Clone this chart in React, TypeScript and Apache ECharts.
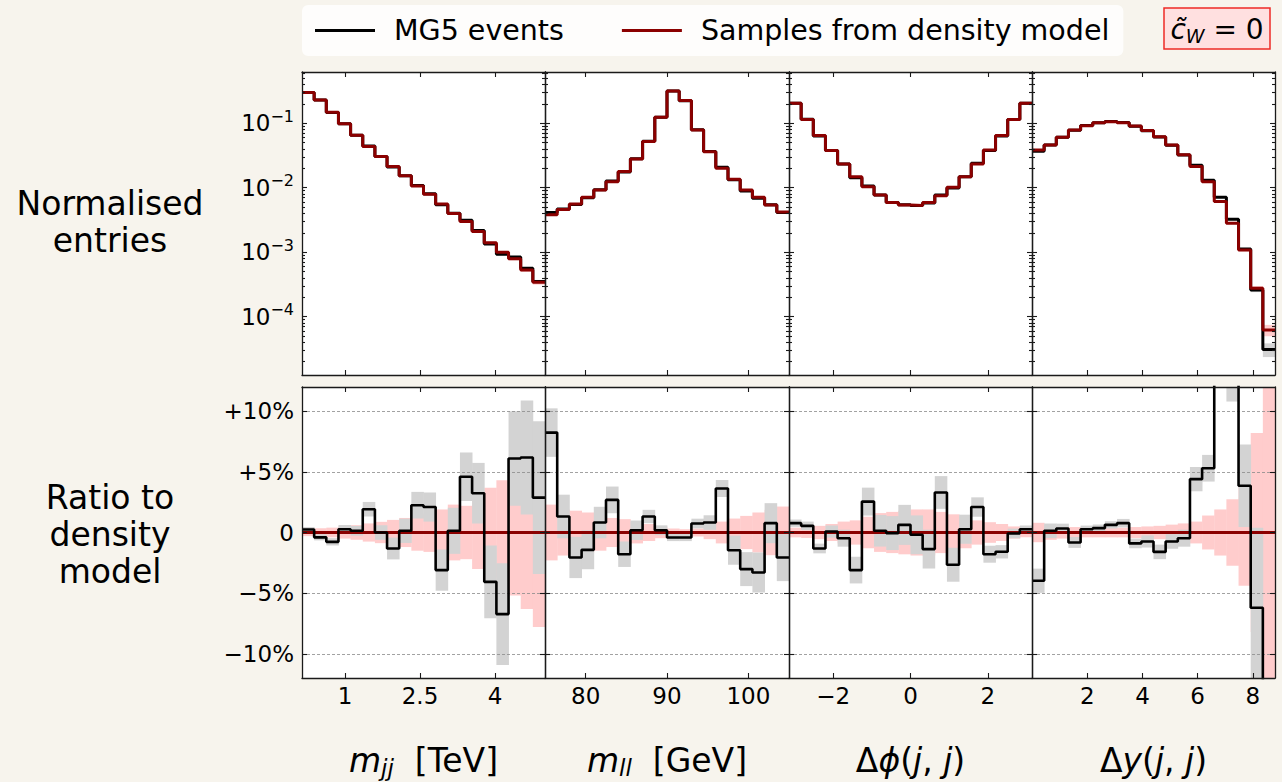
import React, { useEffect, useRef } from 'react';
import * as echarts from 'echarts';

const FONT = '"DejaVu Sans", Verdana, sans-serif';
const INK = '#1a1a1a';
const PAGE_BG = '#f7f4ed';
const MODEL_RED = '#8b0000';
const STAT_GREY = '#d3d3d3';
const SYST_PINK = '#ffcccc';

// ---- binning of the four observables ----
const N_BINS = 20;
const MJJ_RANGE = [0.14, 5.0];
const MLL_RANGE = [75, 105];
const DPHI_RANGE = [-Math.PI, Math.PI];
const DY_RANGE = [0, 8.8];

// ---- tick positions / labels ----
const MJJ_TICKS = [1, 2.5, 4];
const MLL_TICKS = [80, 90, 100];
const DPHI_TICKS = [-2, 0, 2];
const DY_TICKS = [2, 4, 6, 8];
const LOG_TICKS = [-4, -3, -2, -1];
const RATIO_TICKS = [-10, -5, 0, 5, 10];
const RATIO_GRID = [-10, -5, 5, 10];

// ---- normalised entries of the density model ----
const mjjModel = [0.30, 0.23, 0.148, 0.098, 0.065, 0.0435, 0.0304, 0.0213, 0.0153, 0.0106, 0.0079, 0.0056, 0.0040, 0.0030, 0.0021, 0.0014, 0.0010, 0.00079, 0.00053, 0.00034];
const mllModel = [0.0038, 0.0046, 0.0056, 0.0071, 0.0092, 0.0124, 0.0178, 0.028, 0.052, 0.124, 0.318, 0.225, 0.0788, 0.0363, 0.020, 0.0135, 0.0092, 0.0071, 0.0054, 0.0042];
const dphiModel = [0.204, 0.115, 0.0645, 0.0377, 0.0234, 0.0148, 0.0104, 0.0077, 0.0059, 0.0054, 0.0053, 0.0059, 0.0075, 0.0102, 0.0148, 0.0234, 0.0386, 0.0645, 0.115, 0.204];
const dyModel = [0.0385, 0.0461, 0.0607, 0.0788, 0.092, 0.102, 0.106, 0.102, 0.091, 0.077, 0.062, 0.046, 0.0324, 0.0214, 0.0124, 0.0061, 0.0028, 0.00108, 0.000275, 0.000062];

// ---- MG5 / model - 1, in percent ----
const mjjRatio = [0.25, -0.4, -0.77, 0.27, 0.14, 1.92, 0.0, -1.32, 0.14, 2.25, 2.1, -3.1, 0.14, 4.6, 3.24, -4.07, -6.73, 6.1, 6.18, 2.88];
const mllRatio = [8.24, 1.32, -2.06, -1.43, 0.82, 2.69, -1.79, 0.19, 1.32, 0.19, -0.41, -0.41, 0.74, 0.82, 3.63, -1.46, -3.02, -3.3, 0.77, -2.06];
const dphiRatio = [0.77, 0.55, -1.32, 0.08, -0.47, -3.1, 2.55, 0.14, -0.05, 0.63, -0.19, -1.37, 3.3, -2.66, 0.27, 2.1, -1.79, -1.59, -0.08, 0.27];
const dyRatio = [-3.98, 0.14, 0.33, -0.82, 0.27, 0.36, 0.63, 0.77, -0.9, -0.74, -1.6, -0.74, -0.47, 4.4, 5.3, 17, 16, 3.85, -6.2, -50];

// ---- MG5 statistical uncertainty on the ratio, in percent ----
const mjjStat = [0.2, 0.25, 0.3, 0.35, 0.4, 0.6, 0.6, 0.9, 1.0, 1.1, 1.2, 1.7, 1.9, 2.0, 2.5, 3.0, 4.2, 3.9, 4.7, 6.3];
const mllStat = [2.0, 1.8, 1.7, 1.6, 1.3, 1.1, 1.05, 0.8, 0.55, 0.4, 0.3, 0.3, 0.4, 0.6, 0.7, 1.2, 1.4, 1.65, 1.65, 1.95];
const dphiStat = [0.3, 0.35, 0.4, 0.5, 0.7, 1.1, 1.15, 1.3, 1.4, 1.65, 1.6, 1.6, 1.35, 1.4, 1.2, 0.8, 0.7, 0.55, 0.4, 0.3];
const dyStat = [1.0, 0.6, 0.4, 0.45, 0.3, 0.3, 0.3, 0.35, 0.4, 0.5, 0.6, 0.6, 0.7, 1.0, 1.1, 3.0, 5.2, 3.4, 6.6, 12];

// ---- density-model uncertainty band, in percent ----
const mjjModelErr = [0.3, 0.35, 0.4, 0.5, 0.6, 0.75, 0.88, 1.04, 1.2, 1.5, 1.6, 1.9, 2.3, 2.2, 3.0, 3.7, 4.3, 5.2, 6.3, 7.8];
const mllModelErr = [2.3, 1.9, 1.8, 1.65, 1.5, 1.2, 1.1, 0.9, 0.7, 0.47, 0.33, 0.27, 0.33, 0.55, 0.9, 1.15, 1.37, 1.65, 1.87, 2.14];
const dphiModelErr = [0.4, 0.45, 0.55, 0.7, 0.9, 1.0, 1.3, 1.6, 1.7, 1.8, 1.9, 1.9, 1.7, 1.5, 1.3, 1.0, 0.85, 0.7, 0.5, 0.4];
const dyModelErr = [0.8, 0.6, 0.5, 0.45, 0.4, 0.4, 0.4, 0.4, 0.45, 0.5, 0.55, 0.65, 0.75, 0.9, 1.4, 1.9, 2.75, 4.4, 8.2, 20];

// ---- layout ----
const COL_X = [302, 545, 789, 1032, 1275];
const TOP_PANE = { y: 72, h: 303 };
const BOT_PANE = { y: 387, h: 291 };
const LOG_MIN = -4.906;
const LOG_MAX = -0.204;
const R_MIN = -12;
const R_MAX = 12;

const TICK_FS = 23;
const TITLE_FS = 33;
const LEGEND_FS = 28.5;

const minus = (v: number) => (v < 0 ? '\u2212' + Math.abs(v) : String(v));

const LOG_MINOR: number[] = [];
for (let k = -5; k <= -1; k++) {
  for (let m = 2; m <= 9; m++) {
    const v = k + Math.log10(m);
    if (v > LOG_MIN && v < LOG_MAX) LOG_MINOR.push(v);
  }
}

const titleRich = {
  n: { fontSize: TITLE_FS, fontFamily: FONT, color: '#000', lineHeight: 38 },
  i: { fontSize: TITLE_FS, fontFamily: FONT, fontStyle: 'italic', color: '#000', lineHeight: 38 },
  sub: { fontSize: 23, fontFamily: FONT, fontStyle: 'italic', color: '#000', lineHeight: 16, verticalAlign: 'bottom' },
};

const panels = [
  { range: MJJ_RANGE, ticks: MJJ_TICKS, title: '{i|m}{sub|jj}{n|  [TeV]}', model: mjjModel, ratio: mjjRatio, stat: mjjStat, syst: mjjModelErr },
  { range: MLL_RANGE, ticks: MLL_TICKS, title: '{i|m}{sub|ll}{n|  [GeV]}', model: mllModel, ratio: mllRatio, stat: mllStat, syst: mllModelErr },
  { range: DPHI_RANGE, ticks: DPHI_TICKS, title: '{n|\u0394}{i|\u03d5}{n|(}{i|j}{n|, }{i|j}{n|)}', model: dphiModel, ratio: dphiRatio, stat: dphiStat, syst: dphiModelErr },
  { range: DY_RANGE, ticks: DY_TICKS, title: '{n|\u0394}{i|y}{n|(}{i|j}{n|, }{i|j}{n|)}', model: dyModel, ratio: dyRatio, stat: dyStat, syst: dyModelErr },
];

const binEdges = (r: number[]) => {
  const out: number[] = [];
  for (let i = 0; i <= N_BINS; i++) out.push(r[0] + ((r[1] - r[0]) * i) / N_BINS);
  return out;
};

const stepData = (edges: number[], vals: number[]) =>
  edges.map((e, i) => [e, vals[Math.min(i, vals.length - 1)]]);

const safeLog = (v: number) => Math.log10(Math.max(v, 1e-12));

function bandSeries(xi: number, yi: number, rects: number[][], color: string, yMin: number, yMax: number, z: number) {
  return {
    type: 'custom',
    xAxisIndex: xi,
    yAxisIndex: yi,
    z,
    silent: true,
    encode: { x: [0, 1], y: [2, 3] },
    data: rects,
    renderItem: (_params: any, api: any) => {
      const clamp = (v: number) => Math.max(yMin, Math.min(yMax, v));
      const lo = clamp(api.value(2));
      const hi = clamp(api.value(3));
      const p0 = api.coord([api.value(0), hi]);
      const p1 = api.coord([api.value(1), lo]);
      return {
        type: 'rect',
        shape: { x: p0[0], y: p0[1], width: p1[0] - p0[0] + 0.4, height: p1[1] - p0[1] },
        style: { fill: color },
      };
    },
  };
}

function buildOption() {
  const grids: any[] = [];
  const xAxes: any[] = [];
  const yAxes: any[] = [];
  const series: any[] = [];

  const line = { show: true, onZero: false, lineStyle: { color: INK, width: 1.3 } };
  const hiddenLine = { show: false, onZero: false };
  const tick = (len: number, values: number[]) => ({
    show: true,
    inside: true,
    length: len,
    customValues: values,
    lineStyle: { color: INK, width: 1.1 },
  });
  const noLabel = { show: false };
  const noSplit = { show: false };

  panels.forEach((p, c) => {
    const left = COL_X[c];
    const width = COL_X[c + 1] - COL_X[c];
    const edges = binEdges(p.range);
    const xmin = p.range[0];
    const xmax = p.range[1];

    // ---------- upper pane: normalised entries (log scale) ----------
    const gTop = grids.length;
    grids.push({ left, top: TOP_PANE.y, width, height: TOP_PANE.h, show: true, backgroundColor: '#ffffff', borderWidth: 0 });
    const xTop = xAxes.length;
    xAxes.push({ type: 'value', gridIndex: gTop, position: 'bottom', min: xmin, max: xmax, axisLine: line, axisTick: tick(5, p.ticks), axisLabel: noLabel, splitLine: noSplit, z: 10 });
    xAxes.push({ type: 'value', gridIndex: gTop, position: 'top', min: xmin, max: xmax, axisLine: line, axisTick: tick(5, p.ticks), axisLabel: noLabel, splitLine: noSplit, z: 10 });
    const yTop = yAxes.length;
    yAxes.push({
      type: 'value', gridIndex: gTop, position: 'left', min: LOG_MIN, max: LOG_MAX,
      axisLine: line, axisTick: tick(5, LOG_TICKS), splitLine: noSplit, z: 10,
      axisLabel: c === 0
        ? {
            show: true, customValues: LOG_TICKS, margin: 8,
            formatter: (v: number) => `{b|10}{s|\u2212${Math.round(-v)}}`,
            rich: {
              b: { fontSize: TICK_FS, fontFamily: FONT, color: '#000', lineHeight: 30 },
              s: { fontSize: 16, fontFamily: FONT, color: '#000', lineHeight: 14, verticalAlign: 'top' },
            },
          }
        : noLabel,
    });
    yAxes.push({ type: 'value', gridIndex: gTop, position: 'right', min: LOG_MIN, max: LOG_MAX, axisLine: line, axisTick: tick(5, LOG_TICKS), axisLabel: noLabel, splitLine: noSplit, z: 10 });
    yAxes.push({ type: 'value', gridIndex: gTop, position: 'left', min: LOG_MIN, max: LOG_MAX, axisLine: hiddenLine, axisTick: tick(3, LOG_MINOR), axisLabel: noLabel, splitLine: noSplit, z: 10 });
    yAxes.push({ type: 'value', gridIndex: gTop, position: 'right', min: LOG_MIN, max: LOG_MAX, axisLine: hiddenLine, axisTick: tick(3, LOG_MINOR), axisLabel: noLabel, splitLine: noSplit, z: 10 });

    const mg5 = p.model.map((m, i) => m * (1 + p.ratio[i] / 100));
    const systRects = p.model.map((m, i) => [edges[i], edges[i + 1], safeLog(m * (1 - p.syst[i] / 100)), safeLog(m * (1 + p.syst[i] / 100))]);
    const statRects = p.model.map((m, i) => [edges[i], edges[i + 1], safeLog(m * (1 + (p.ratio[i] - p.stat[i]) / 100)), safeLog(m * (1 + (p.ratio[i] + p.stat[i]) / 100))]);
    series.push(bandSeries(xTop, yTop, systRects, SYST_PINK, LOG_MIN, LOG_MAX, 2));
    series.push(bandSeries(xTop, yTop, statRects, STAT_GREY, LOG_MIN, LOG_MAX, 3));
    series.push({
      type: 'line', name: 'MG5 events', xAxisIndex: xTop, yAxisIndex: yTop, z: 4,
      step: 'end', symbol: 'none', silent: true, clip: true, color: '#000',
      itemStyle: { color: '#000' }, lineStyle: { color: '#000', width: 3 },
      data: stepData(edges, mg5.map(safeLog)),
    });
    series.push({
      type: 'line', name: 'Samples from density model', xAxisIndex: xTop, yAxisIndex: yTop, z: 5,
      step: 'end', symbol: 'none', silent: true, clip: true, color: MODEL_RED,
      itemStyle: { color: MODEL_RED }, lineStyle: { color: MODEL_RED, width: 3 },
      data: stepData(edges, p.model.map(safeLog)),
    });

    // ---------- lower pane: ratio to the density model ----------
    const gBot = grids.length;
    grids.push({ left, top: BOT_PANE.y, width, height: BOT_PANE.h, show: true, backgroundColor: '#ffffff', borderWidth: 0 });
    const xBot = xAxes.length;
    xAxes.push({
      type: 'value', gridIndex: gBot, position: 'bottom', min: xmin, max: xmax,
      axisLine: line, axisTick: tick(5, p.ticks), splitLine: noSplit, z: 10,
      axisLabel: { show: true, customValues: p.ticks, margin: 6, fontSize: TICK_FS, fontFamily: FONT, color: '#000', formatter: (v: number) => minus(v) },
      name: p.title, nameLocation: 'middle', nameGap: 63,
      nameTextStyle: { rich: titleRich, fontSize: TITLE_FS, fontFamily: FONT, color: '#000' },
    });
    xAxes.push({ type: 'value', gridIndex: gBot, position: 'top', min: xmin, max: xmax, axisLine: line, axisTick: tick(5, p.ticks), axisLabel: noLabel, splitLine: noSplit, z: 10 });
    const yBot = yAxes.length;
    yAxes.push({
      type: 'value', gridIndex: gBot, position: 'left', min: R_MIN, max: R_MAX,
      axisLine: line, axisTick: tick(5, RATIO_TICKS), splitLine: noSplit, z: 10,
      axisLabel: c === 0
        ? {
            show: true, customValues: RATIO_TICKS, margin: 8, fontSize: TICK_FS, fontFamily: FONT, color: '#000',
            formatter: (v: number) => (v === 0 ? '0' : v > 0 ? `+${v}%` : `\u2212${-v}%`),
          }
        : noLabel,
    });
    yAxes.push({ type: 'value', gridIndex: gBot, position: 'right', min: R_MIN, max: R_MAX, axisLine: line, axisTick: tick(5, RATIO_TICKS), axisLabel: noLabel, splitLine: noSplit, z: 10 });

    // dashed reference lines
    series.push({
      type: 'line', xAxisIndex: xBot, yAxisIndex: yBot, z: 1, silent: true, symbol: 'none',
      lineStyle: { width: 0, opacity: 0 },
      data: [[xmin, 0], [xmax, 0]],
      markLine: {
        silent: true, symbol: 'none', label: { show: false },
        lineStyle: { color: '#8a8a8a', width: 0.8, type: [3, 2] },
        data: RATIO_GRID.map((v) => ({ yAxis: v })),
      },
    });
    const systR = p.syst.map((s, i) => [edges[i], edges[i + 1], -s, s]);
    const statR = p.ratio.map((r, i) => [edges[i], edges[i + 1], r - p.stat[i], r + p.stat[i]]);
    series.push(bandSeries(xBot, yBot, systR, SYST_PINK, R_MIN, R_MAX, 2));
    series.push(bandSeries(xBot, yBot, statR, STAT_GREY, R_MIN, R_MAX, 3));
    series.push({
      type: 'line', name: 'Samples from density model', xAxisIndex: xBot, yAxisIndex: yBot, z: 4,
      symbol: 'none', silent: true, clip: true, color: MODEL_RED,
      itemStyle: { color: MODEL_RED }, lineStyle: { color: MODEL_RED, width: 3 },
      data: [[xmin, 0], [xmax, 0]],
    });
    series.push({
      type: 'line', name: 'MG5 events', xAxisIndex: xBot, yAxisIndex: yBot, z: 5,
      step: 'end', symbol: 'none', silent: true, clip: true, color: '#000',
      itemStyle: { color: '#000' }, lineStyle: { color: '#000', width: 2.6 },
      data: stepData(edges, p.ratio),
    });
  });

  return {
    animation: false,
    backgroundColor: PAGE_BG,
    textStyle: { fontFamily: FONT },
    grid: grids,
    xAxis: xAxes,
    yAxis: yAxes,
    series,
    legend: {
      left: 302, top: 5,
      data: ['MG5 events', 'Samples from density model'],
      icon: 'rect', itemWidth: 60, itemHeight: 3, itemGap: 58,
      selectedMode: false,
      backgroundColor: 'rgba(255,255,255,0.8)', borderRadius: 6,
      padding: [11, 14, 11, 13],
      textStyle: { fontSize: LEGEND_FS, fontFamily: FONT, color: '#000', padding: [0, 0, 0, 14] },
    },
    graphic: [
      {
        type: 'text', x: 110, y: 222, silent: true,
        style: { text: 'Normalised\nentries', fontSize: TITLE_FS, fontFamily: FONT, fill: '#000', align: 'center', verticalAlign: 'middle', lineHeight: 37 },
      },
      {
        type: 'text', x: 110, y: 534, silent: true,
        style: { text: 'Ratio to\ndensity\nmodel', fontSize: TITLE_FS, fontFamily: FONT, fill: '#000', align: 'center', verticalAlign: 'middle', lineHeight: 37 },
      },
      {
        type: 'rect', silent: true,
        shape: { x: 1164, y: 8, width: 106, height: 41 },
        style: { fill: '#ffe0e0', stroke: '#ee2a26', lineWidth: 1.5 },
      },
      {
        type: 'text', x: 1217, y: 29, silent: true,
        style: {
          text: '{i|c\u0303}{sub|W}{n| = 0}',
          align: 'center', verticalAlign: 'middle',
          rich: {
            i: { fontSize: 28, fontFamily: FONT, fontStyle: 'italic', fill: '#000', lineHeight: 32 },
            sub: { fontSize: 19, fontFamily: FONT, fontStyle: 'italic', fill: '#000', lineHeight: 14, verticalAlign: 'bottom' },
            n: { fontSize: 28, fontFamily: FONT, fill: '#000', lineHeight: 32 },
          },
        },
      },
    ],
  };
}

export default function App() {
  const ref = useRef<HTMLDivElement>(null);
  useEffect(() => {
    if (!ref.current) return;
    const chart = echarts.init(ref.current, undefined, { renderer: 'svg' });
    chart.setOption(buildOption() as any);
    return () => chart.dispose();
  }, []);
  return (
    <div
      ref={ref}
      style={{ position: 'fixed', left: 0, top: 0, width: 1282, height: 782, background: PAGE_BG }}
    />
  );
}
